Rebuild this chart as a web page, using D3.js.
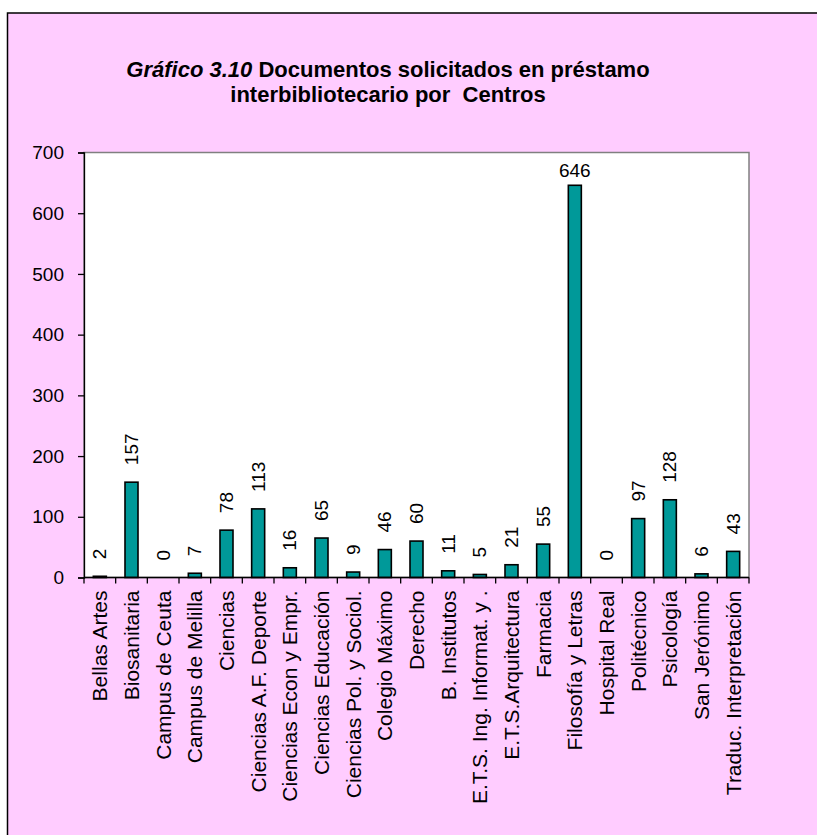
<!DOCTYPE html>
<html>
<head>
<meta charset="utf-8">
<script src="https://cdn.jsdelivr.net/npm/d3@7"></script>
<style>
  body { margin: 0; background: #fff; }
  text { font-family: Arial, "Liberation Sans", sans-serif; }
</style>
</head>
<body>
<svg id="chart" width="817" height="835"></svg>
<script>
const centros = [
  "Bellas Artes", "Biosanitaria", "Campus de Ceuta", "Campus de Melilla", "Ciencias",
  "Ciencias A.F. Deporte", "Ciencias Econ y Empr.", "Ciencias Educación", "Ciencias Pol. y Sociol.",
  "Colegio Máximo", "Derecho", "B. Institutos", "E.T.S. Ing. Informat. y .", "E.T.S.Arquitectura",
  "Farmacia", "Filosofía y Letras", "Hospital Real", "Politécnico", "Psicología", "San Jerónimo",
  "Traduc. Interpretación"
];
const documentos = [2, 157, 0, 7, 78, 113, 16, 65, 9, 46, 60, 11, 5, 21, 55, 646, 0, 97, 128, 6, 43];
const yTicks = [0, 100, 200, 300, 400, 500, 600, 700];

const svg = d3.select("#chart");
const plotLeft = 84, plotRight = 749, plotTop = 152.5, plotBottom = 577.5;

// marco rosa
svg.append("rect")
    .attr("x", 7.5).attr("y", 13)
    .attr("width", 830).attr("height", 840)
    .attr("fill", "#ffccff")
    .attr("stroke", "#000").attr("stroke-width", 1.5);

// titulo
const title = svg.append("text")
    .attr("x", 388).attr("y", 77)
    .attr("text-anchor", "middle")
    .attr("font-size", 22).attr("font-weight", "bold");
title.append("tspan").attr("font-style", "italic").text("Gráfico 3.10");
title.append("tspan").text(" Documentos solicitados en préstamo");
svg.append("text")
    .attr("x", 388).attr("y", 102)
    .attr("text-anchor", "middle")
    .attr("font-size", 22).attr("font-weight", "bold")
    .attr("xml:space", "preserve")
    .text("interbibliotecario por  Centros");

const x = d3.scaleBand().domain(centros).range([plotLeft, plotRight]);
const y = d3.scaleLinear().domain([0, 700]).range([plotBottom, plotTop]);

// area de trazado
svg.append("rect")
    .attr("x", plotLeft).attr("y", plotTop)
    .attr("width", plotRight - plotLeft).attr("height", plotBottom - plotTop)
    .attr("fill", "#fff")
    .attr("stroke", "#808080").attr("stroke-width", 1.5);

// barras
svg.append("g").selectAll("rect")
    .data(documentos)
    .join("rect")
    .attr("x", (d, i) => x(centros[i]) + x.bandwidth() / 2 - 6.5)
    .attr("y", d => y(d))
    .attr("width", 13)
    .attr("height", d => y(0) - y(d))
    .attr("fill", "#009999")
    .attr("stroke", "#000").attr("stroke-width", 1.6);

// eje Y
const yAxis = svg.append("g")
    .attr("transform", `translate(${plotLeft},0)`)
    .call(d3.axisLeft(y).tickValues(yTicks).tickSize(6).tickPadding(14));
yAxis.select(".domain").attr("stroke", "#000").attr("stroke-width", 1.3);
yAxis.selectAll(".tick line").attr("stroke", "#000").attr("stroke-width", 1.3);
yAxis.selectAll("text").attr("font-size", 19).attr("font-family", "Arial").attr("fill", "#000");

// eje X
svg.append("line")
    .attr("x1", plotLeft).attr("x2", plotRight)
    .attr("y1", plotBottom).attr("y2", plotBottom)
    .attr("stroke", "#000").attr("stroke-width", 1.3);
svg.append("g").selectAll("line")
    .data(d3.range(centros.length + 1))
    .join("line")
    .attr("x1", i => plotLeft + i * x.step()).attr("x2", i => plotLeft + i * x.step())
    .attr("y1", plotBottom).attr("y2", plotBottom + 6)
    .attr("stroke", "#000").attr("stroke-width", 1.3);

svg.append("g").selectAll("text")
    .data(centros)
    .join("text")
    .attr("transform", d => `translate(${x(d) + x.bandwidth() / 2},${plotBottom + 13}) rotate(-90)`)
    .attr("text-anchor", "end")
    .attr("dy", "0.35em")
    .attr("font-size", 21)
    .text(d => d);

// etiquetas de valor
svg.append("g").selectAll("text")
    .data(documentos)
    .join("text")
    .attr("font-size", 19)
    .each(function (d, i) {
        const cx = x(centros[i]) + x.bandwidth() / 2;
        const t = d3.select(this).text(d);
        if (d > 600) {
            t.attr("x", cx).attr("y", y(d) - 8).attr("text-anchor", "middle");
        } else {
            t.attr("transform", `translate(${cx},${y(d) - 17}) rotate(-90)`)
                .attr("dy", "0.35em");
        }
    });
</script>
</body>
</html>
